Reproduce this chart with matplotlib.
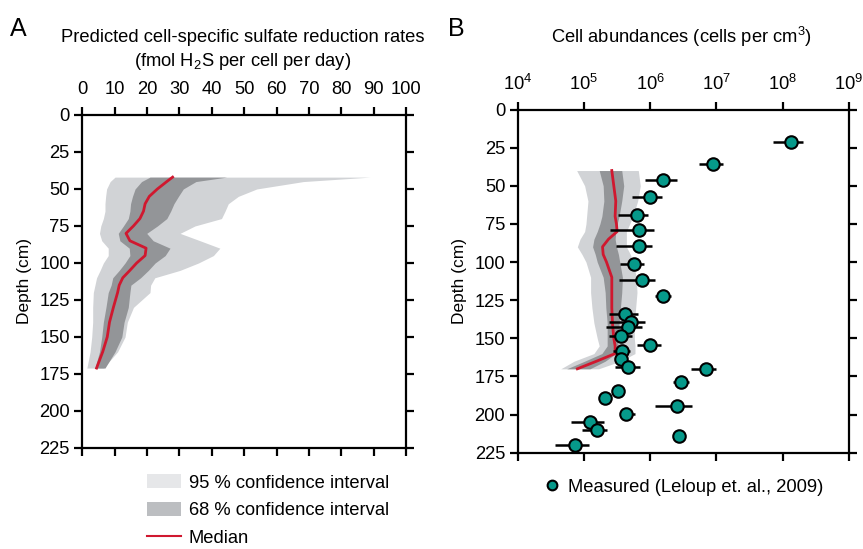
import numpy as np
import matplotlib
matplotlib.use("Agg")
from matplotlib import pyplot as plt
from matplotlib.patches import Patch
from matplotlib.lines import Line2D

plt.rcParams["font.family"] = ["Liberation Sans", "DejaVu Sans"]
plt.rcParams["font.size"] = 13.2
plt.rcParams["mathtext.fontset"] = "custom"
plt.rcParams["mathtext.rm"] = "Liberation Sans"

# panel A: predicted cell-specific sulfate reduction rates (fmol H2S / cell / day)
depth_a = [42, 45, 50, 55, 60, 65, 70, 75, 80, 85, 90, 95, 100, 105, 110, 115, 120, 130, 140, 150, 160, 171]
ci95_lo_a = [10.1, 8.6, 7.5, 7.2, 7.0, 7.0, 6.5, 5.7, 5.3, 6.0, 8.0, 8.0, 6.5, 5.5, 4.4, 3.9, 3.4, 3.2, 3.2, 2.9, 2.4, 1.4]
ci95_hi_a = [88.9, 68.3, 53.9, 48.2, 45.1, 44.1, 43.0, 34.8, 30.2, 36.4, 42.5, 40.5, 35.9, 30.2, 22.4, 21.1, 20.9, 15.8, 13.9, 13.2, 10.9, 6.5]
ci68_lo_a = [20.9, 18.3, 16.3, 15.5, 14.9, 14.7, 14.2, 12.7, 11.1, 11.6, 14.5, 14.7, 13.2, 11.4, 9.4, 8.9, 8.0, 7.3, 6.5, 6.0, 5.3, 3.9]
ci68_hi_a = [44.6, 35.1, 31.2, 29.7, 28.3, 27.3, 26.1, 23.2, 19.9, 21.9, 27.1, 25.6, 22.5, 20.4, 18.0, 15.0, 14.7, 14.2, 12.9, 12.2, 10.1, 7.0]
median_a = [27.9, 26.1, 23.2, 20.7, 19.4, 18.9, 17.8, 15.8, 13.5, 14.7, 19.7, 19.4, 16.8, 14.7, 12.5, 11.4, 10.9, 9.6, 8.4, 7.7, 6.3, 4.4]

# panel B: cell abundances, log10(cells per cm3)
depth_b = [40, 50, 60, 70, 75, 80, 85, 90, 95, 100, 110, 120, 130, 140, 150, 155, 160, 165, 170]
ci95_lo_b = [4.89, 5.01, 5.06, 5.04, 5.03, 5.01, 4.94, 4.90, 4.97, 5.03, 5.10, 5.10, 5.12, 5.15, 5.20, 5.23, 5.15, 4.85, 4.65]
ci95_hi_b = [5.82, 5.85, 5.81, 5.74, 5.69, 5.64, 5.64, 5.64, 5.70, 5.74, 5.79, 5.80, 5.78, 5.76, 5.76, 5.77, 5.77, 5.55, 5.22]
ci68_lo_b = [5.23, 5.29, 5.30, 5.27, 5.24, 5.20, 5.15, 5.13, 5.17, 5.20, 5.29, 5.32, 5.33, 5.35, 5.35, 5.35, 5.27, 5.01, 4.74]
ci68_hi_b = [5.57, 5.60, 5.57, 5.53, 5.50, 5.48, 5.47, 5.49, 5.52, 5.54, 5.58, 5.57, 5.55, 5.53, 5.52, 5.51, 5.48, 5.32, 5.09]
median_b = [5.42, 5.45, 5.48, 5.47, 5.49, 5.50, 5.37, 5.28, 5.29, 5.34, 5.42, 5.42, 5.42, 5.43, 5.45, 5.47, 5.47, 5.19, 4.90]

# measured abundances (Leloup et al., 2009), log10 with error range
meas_depth = [21.5, 35.7, 46.2, 57.5, 68.9, 79.3, 89.8, 101.2, 111.7, 122.1, 133.9, 139.0, 142.9, 148.8,
              154.2, 158.6, 163.6, 169.1, 170.2, 178.9, 184.3, 189.4, 194.2, 199.6, 205.1, 209.9, 214.3, 220.2]
meas_log = [8.125, 6.94, 6.20, 6.00, 5.80, 5.83, 5.83, 5.76, 5.87, 6.20, 5.62, 5.71, 5.66, 5.56,
            5.99, 5.58, 5.56, 5.66, 6.84, 6.46, 5.52, 5.32, 6.40, 5.63, 5.09, 5.19, 6.43, 4.86]
meas_lo = [7.86, 6.74, 5.92, 5.73, 5.52, 5.39, 5.48, 5.55, 5.53, 6.07, 5.38, 5.38, 5.33, 5.38,
           5.80, 5.44, 5.50, 5.47, 6.61, 6.35, 5.52, 5.32, 6.07, 5.57, 4.80, 4.97, 6.35, 4.56]
meas_hi = [8.31, 7.10, 6.40, 6.18, 5.97, 6.06, 6.03, 5.91, 6.07, 6.32, 5.82, 5.92, 5.87, 5.72,
           6.16, 5.69, 5.62, 5.85, 7.00, 6.59, 5.52, 5.32, 6.63, 5.77, 5.30, 5.34, 6.51, 5.07]

depth_ticks = [0, 25, 50, 75, 100, 125, 150, 175, 200, 225]

c95 = "#d1d3d6"
c68 = "#939598"
c_med = "#d0182f"
c_meas = "#06998a"


def style_axes(ax, top_pad):
    for side in ax.spines.values():
        side.set_linewidth(1.6)
    ax.tick_params(which="both", direction="out", length=6, width=1.6, pad=3,
                   top=True, bottom=True, left=True, right=True,
                   labeltop=True, labelbottom=False, labelleft=True, labelright=False,
                   labelsize=13.2)
    ax.tick_params(axis="x", pad=top_pad)
    ax.set_ylim(225, 0)
    ax.set_yticks(depth_ticks)
    ax.set_ylabel("Depth (cm)", fontsize=12.5, labelpad=5.5)


fig = plt.figure(figsize=(8.63, 5.49), dpi=100)

# --- panel A ---
ax_a = fig.add_axes([0.0954, 0.184, 0.375, 0.6066])
ax_a.fill_betweenx(depth_a, ci95_lo_a, ci95_hi_a, color=c95, lw=0)
ax_a.fill_betweenx(depth_a, ci68_lo_a, ci68_hi_a, color=c68, lw=0)
ax_a.plot(median_a, depth_a, color=c_med, lw=2)
ax_a.set_xlim(0, 100)
ax_a.set_xticks(range(0, 101, 10))
style_axes(ax_a, top_pad=6.5)

# --- panel B ---
ax_b = fig.add_axes([0.5999, 0.1754, 0.3839, 0.6251])
ax_b.set_xscale("log")
ax_b.fill_betweenx(depth_b, np.power(10, ci95_lo_b), np.power(10, ci95_hi_b), color=c95, lw=0)
ax_b.fill_betweenx(depth_b, np.power(10, ci68_lo_b), np.power(10, ci68_hi_b), color=c68, lw=0)
ax_b.plot(np.power(10, median_b), depth_b, color=c_med, lw=2)

vals = np.power(10, meas_log)
xerr = [vals - np.power(10, meas_lo), np.power(10, meas_hi) - vals]
ax_b.errorbar(vals, meas_depth, xerr=xerr, fmt="none", ecolor="black", elinewidth=1.8, capsize=0, zorder=3)
ax_b.plot(vals, meas_depth, "o", ms=9, mfc=c_meas, mec="black", mew=1.5, zorder=4)
ax_b.set_xlim(1e4, 1e9)
ax_b.set_xticks([1e4, 1e5, 1e6, 1e7, 1e8, 1e9])
ax_b.minorticks_off()
style_axes(ax_b, top_pad=5)

# titles and panel letters
fig.text(0.011, 0.948, "A", fontsize=18, ha="left", va="center")
fig.text(0.519, 0.948, "B", fontsize=18, ha="left", va="center")
fig.text(0.281, 0.932, "Predicted cell-specific sulfate reduction rates", ha="center", va="center")
fig.text(0.281, 0.888, "(fmol H$_2$S per cell per day)", ha="center", va="center")
fig.text(0.790, 0.932, "Cell abundances (cells per cm$^3$)", ha="center", va="center")

# legends
handles_a = [Patch(facecolor="#e6e7e9", edgecolor="none", label="95 % confidence interval"),
             Patch(facecolor="#bcbec1", edgecolor="none", label="68 % confidence interval"),
             Line2D([], [], color=c_med, lw=1.5, label="Median")]
fig.legend(handles=handles_a, loc="upper left", bbox_to_anchor=(0.170, 0.136), frameon=False,
           borderpad=0, borderaxespad=0, handlelength=1.85, handleheight=0.8, handletextpad=0.45,
           labelspacing=0.56, fontsize=13.2)

handles_b = [Line2D([], [], ls="none", marker="o", ms=7, mfc=c_meas, mec="black", mew=1.5,
                    label="Measured (Leloup et. al., 2009)")]
fig.legend(handles=handles_b, loc="upper left", bbox_to_anchor=(0.630, 0.128), frameon=False,
           borderpad=0, borderaxespad=0, handlelength=0.9, handletextpad=0.4, fontsize=13.2)

fig.savefig("out.png", dpi=100)
